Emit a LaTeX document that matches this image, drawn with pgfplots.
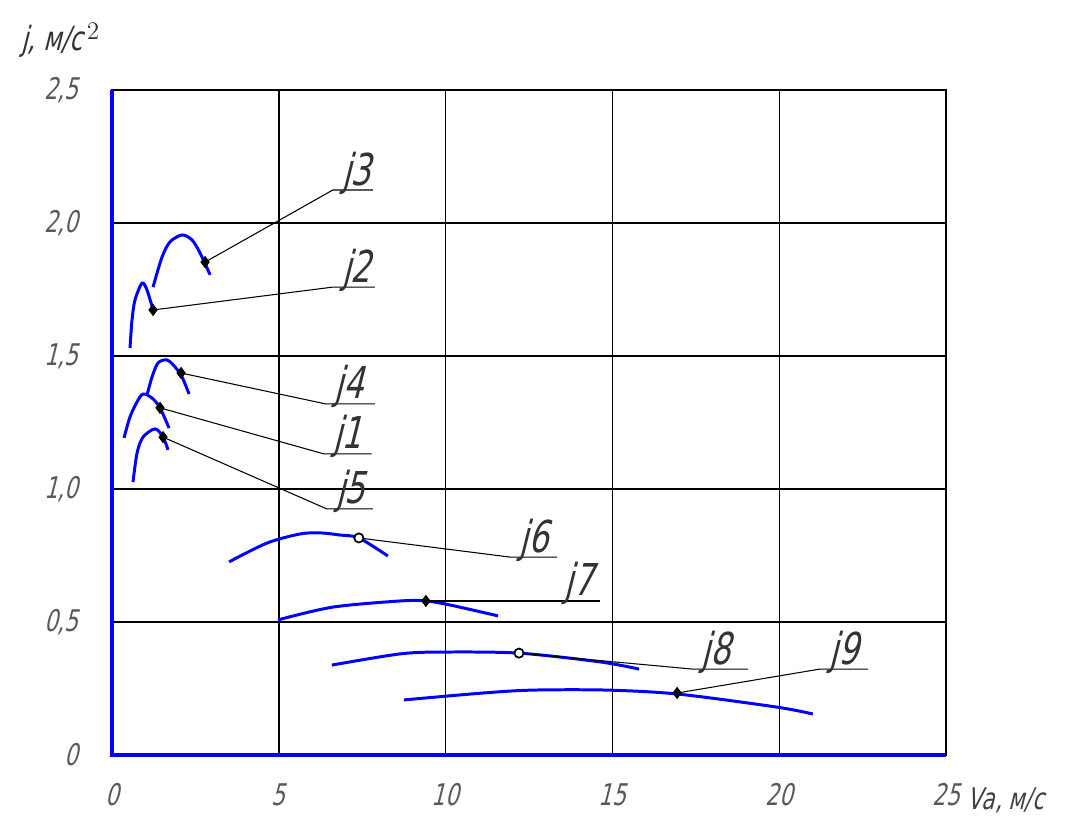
\documentclass[border=0pt]{standalone}
\usepackage{pgfplots}
\pgfplotsset{compat=1.18}
\usepackage{fontspec}
\setmainfont{DejaVu Sans}[FakeStretch=0.72,FakeSlant=0.25]
\begin{document}
\begin{tikzpicture}
\begin{axis}[
 scale only axis, width=16.68cm, height=13.3cm,
 xmin=0,xmax=25,ymin=0,ymax=2.5,
 xtick={0,5,10,15,20,25}, xticklabels={0,5,10,15,20,25},
 ytick={0,0.5,1,1.5,2,2.5}, yticklabels={0,{0,5},{1,0},{1,5},{2,0},{2,5}},
 major tick length=0pt,
 grid=major, grid style={black, line width=0.8pt},
 axis line style={black, line width=0.8pt},
 tick label style={font=\fontsize{17}{17}\selectfont, text=black!65},
 xticklabel style={yshift=-0.45cm},
 yticklabel style={xshift=-0.55cm},
 clip=false,
]
% bounding box
\path ([xshift=-2.24cm, yshift=-1.24cm] rel axis cs:0,0) rectangle ([xshift=2.38cm, yshift=1.8cm] rel axis cs:1,1);
% blue axes
\draw[blue, line width=2pt] (rel axis cs:0,1) -- (rel axis cs:0,0) -- (rel axis cs:1,0);

% curves
\addplot[blue, line width=1.7pt, smooth] coordinates {(0.54,1.530) (0.60,1.635) (0.69,1.711) (0.90,1.774) (1.05,1.748) (1.23,1.673)}; % j2
\addplot[blue, line width=1.7pt, smooth] coordinates {(1.23,1.759) (1.50,1.872) (1.74,1.929) (2.10,1.955) (2.40,1.936) (2.64,1.887) (2.94,1.805)}; % j3
\addplot[blue, line width=1.7pt, smooth] coordinates {(1.05,1.353) (1.20,1.421) (1.38,1.474) (1.65,1.485) (1.89,1.459) (2.10,1.421) (2.31,1.357)}; % j4
\addplot[blue, line width=1.7pt, smooth] coordinates {(0.36,1.192) (0.54,1.271) (0.75,1.327) (0.93,1.357) (1.20,1.342) (1.44,1.305) (1.71,1.229)}; % j1
\addplot[blue, line width=1.7pt, smooth] coordinates {(0.63,1.026) (0.75,1.135) (0.93,1.195) (1.29,1.226) (1.53,1.195) (1.68,1.147)}; % j5
\addplot[blue, line width=1.7pt, smooth] coordinates {(3.51,0.726) (4.65,0.797) (5.64,0.831) (6.24,0.835) (6.83,0.827) (7.40,0.816) (8.27,0.748)}; % j6
\addplot[blue, line width=1.7pt, smooth] coordinates {(4.98,0.508) (6.62,0.556) (8.63,0.579) (9.41,0.579) (10.13,0.564) (11.57,0.523)}; % j7
\addplot[blue, line width=1.7pt, smooth] coordinates {(6.59,0.338) (8.63,0.380) (9.92,0.387) (12.20,0.383) (14.63,0.350) (15.80,0.323)}; % j8
\addplot[blue, line width=1.7pt, smooth] coordinates {(8.75,0.207) (11.12,0.233) (12.62,0.244) (14.84,0.244) (16.97,0.229) (19.93,0.180) (21.01,0.154)}; % j9

% leader lines
\addplot[black, line width=0.6pt] coordinates {(2.79,1.853) (6.62,2.124) (7.82,2.124)};
\addplot[black, line width=0.6pt] coordinates {(1.23,1.673) (6.62,1.759) (7.88,1.759)};
\addplot[black, line width=0.6pt] coordinates {(2.07,1.436) (6.40,1.320) (7.88,1.320)};
\addplot[black, line width=0.6pt] coordinates {(1.44,1.305) (6.35,1.132) (7.78,1.132)};
\addplot[black, line width=0.6pt] coordinates {(1.53,1.195) (6.44,0.925) (7.82,0.925)};
\addplot[black, line width=0.6pt] coordinates {(7.40,0.816) (11.93,0.744) (13.34,0.744)};
\addplot[black, line width=0.6pt] coordinates {(9.41,0.579) (13.28,0.579) (14.63,0.579)};
\addplot[black, line width=0.6pt] coordinates {(12.20,0.383) (17.40,0.323) (19.06,0.323)};
\addplot[black, line width=0.6pt] coordinates {(16.94,0.233) (21.22,0.323) (22.66,0.323)};

% markers
\addplot[only marks, mark=diamond*, mark size=3.2pt, black] coordinates {(2.79,1.853) (1.23,1.673) (2.07,1.436) (1.44,1.305) (1.53,1.195) (9.41,0.579) (16.94,0.233)};
\addplot[only marks, mark=*, mark size=2.6pt, black, mark options={fill=white, line width=1pt}] coordinates {(7.40,0.816) (12.20,0.383)};

% labels
\tikzset{jl/.style={anchor=base west, font=\fontsize{25}{25}\selectfont, text=black!80, inner sep=0pt, yshift=0.1cm, xshift=0.18cm}}
\node[jl] at (axis cs:6.62,2.124) {j3};
\node[jl] at (axis cs:6.62,1.759) {j2};
\node[jl] at (axis cs:6.40,1.320) {j4};
\node[jl] at (axis cs:6.35,1.132) {j1};
\node[jl] at (axis cs:6.44,0.925) {j5};
\node[jl] at (axis cs:11.93,0.744) {j6};
\node[jl] at (axis cs:13.28,0.579) {j7};
\node[jl] at (axis cs:17.40,0.323) {j8};
\node[jl] at (axis cs:21.22,0.323) {j9};

% axis titles
\node[anchor=west, font=\fontsize{17}{17}\selectfont, text=black!75] at ([xshift=0.3cm, yshift=-0.9cm] rel axis cs:1,0) {Vа, м/с};
\node[anchor=west, font=\fontsize{19}{19}\selectfont, text=black!80] at ([xshift=-1.94cm, yshift=1.0cm] rel axis cs:0,1) {j, м/с$^{\,2}$};
\end{axis}
\end{tikzpicture}
\end{document}
